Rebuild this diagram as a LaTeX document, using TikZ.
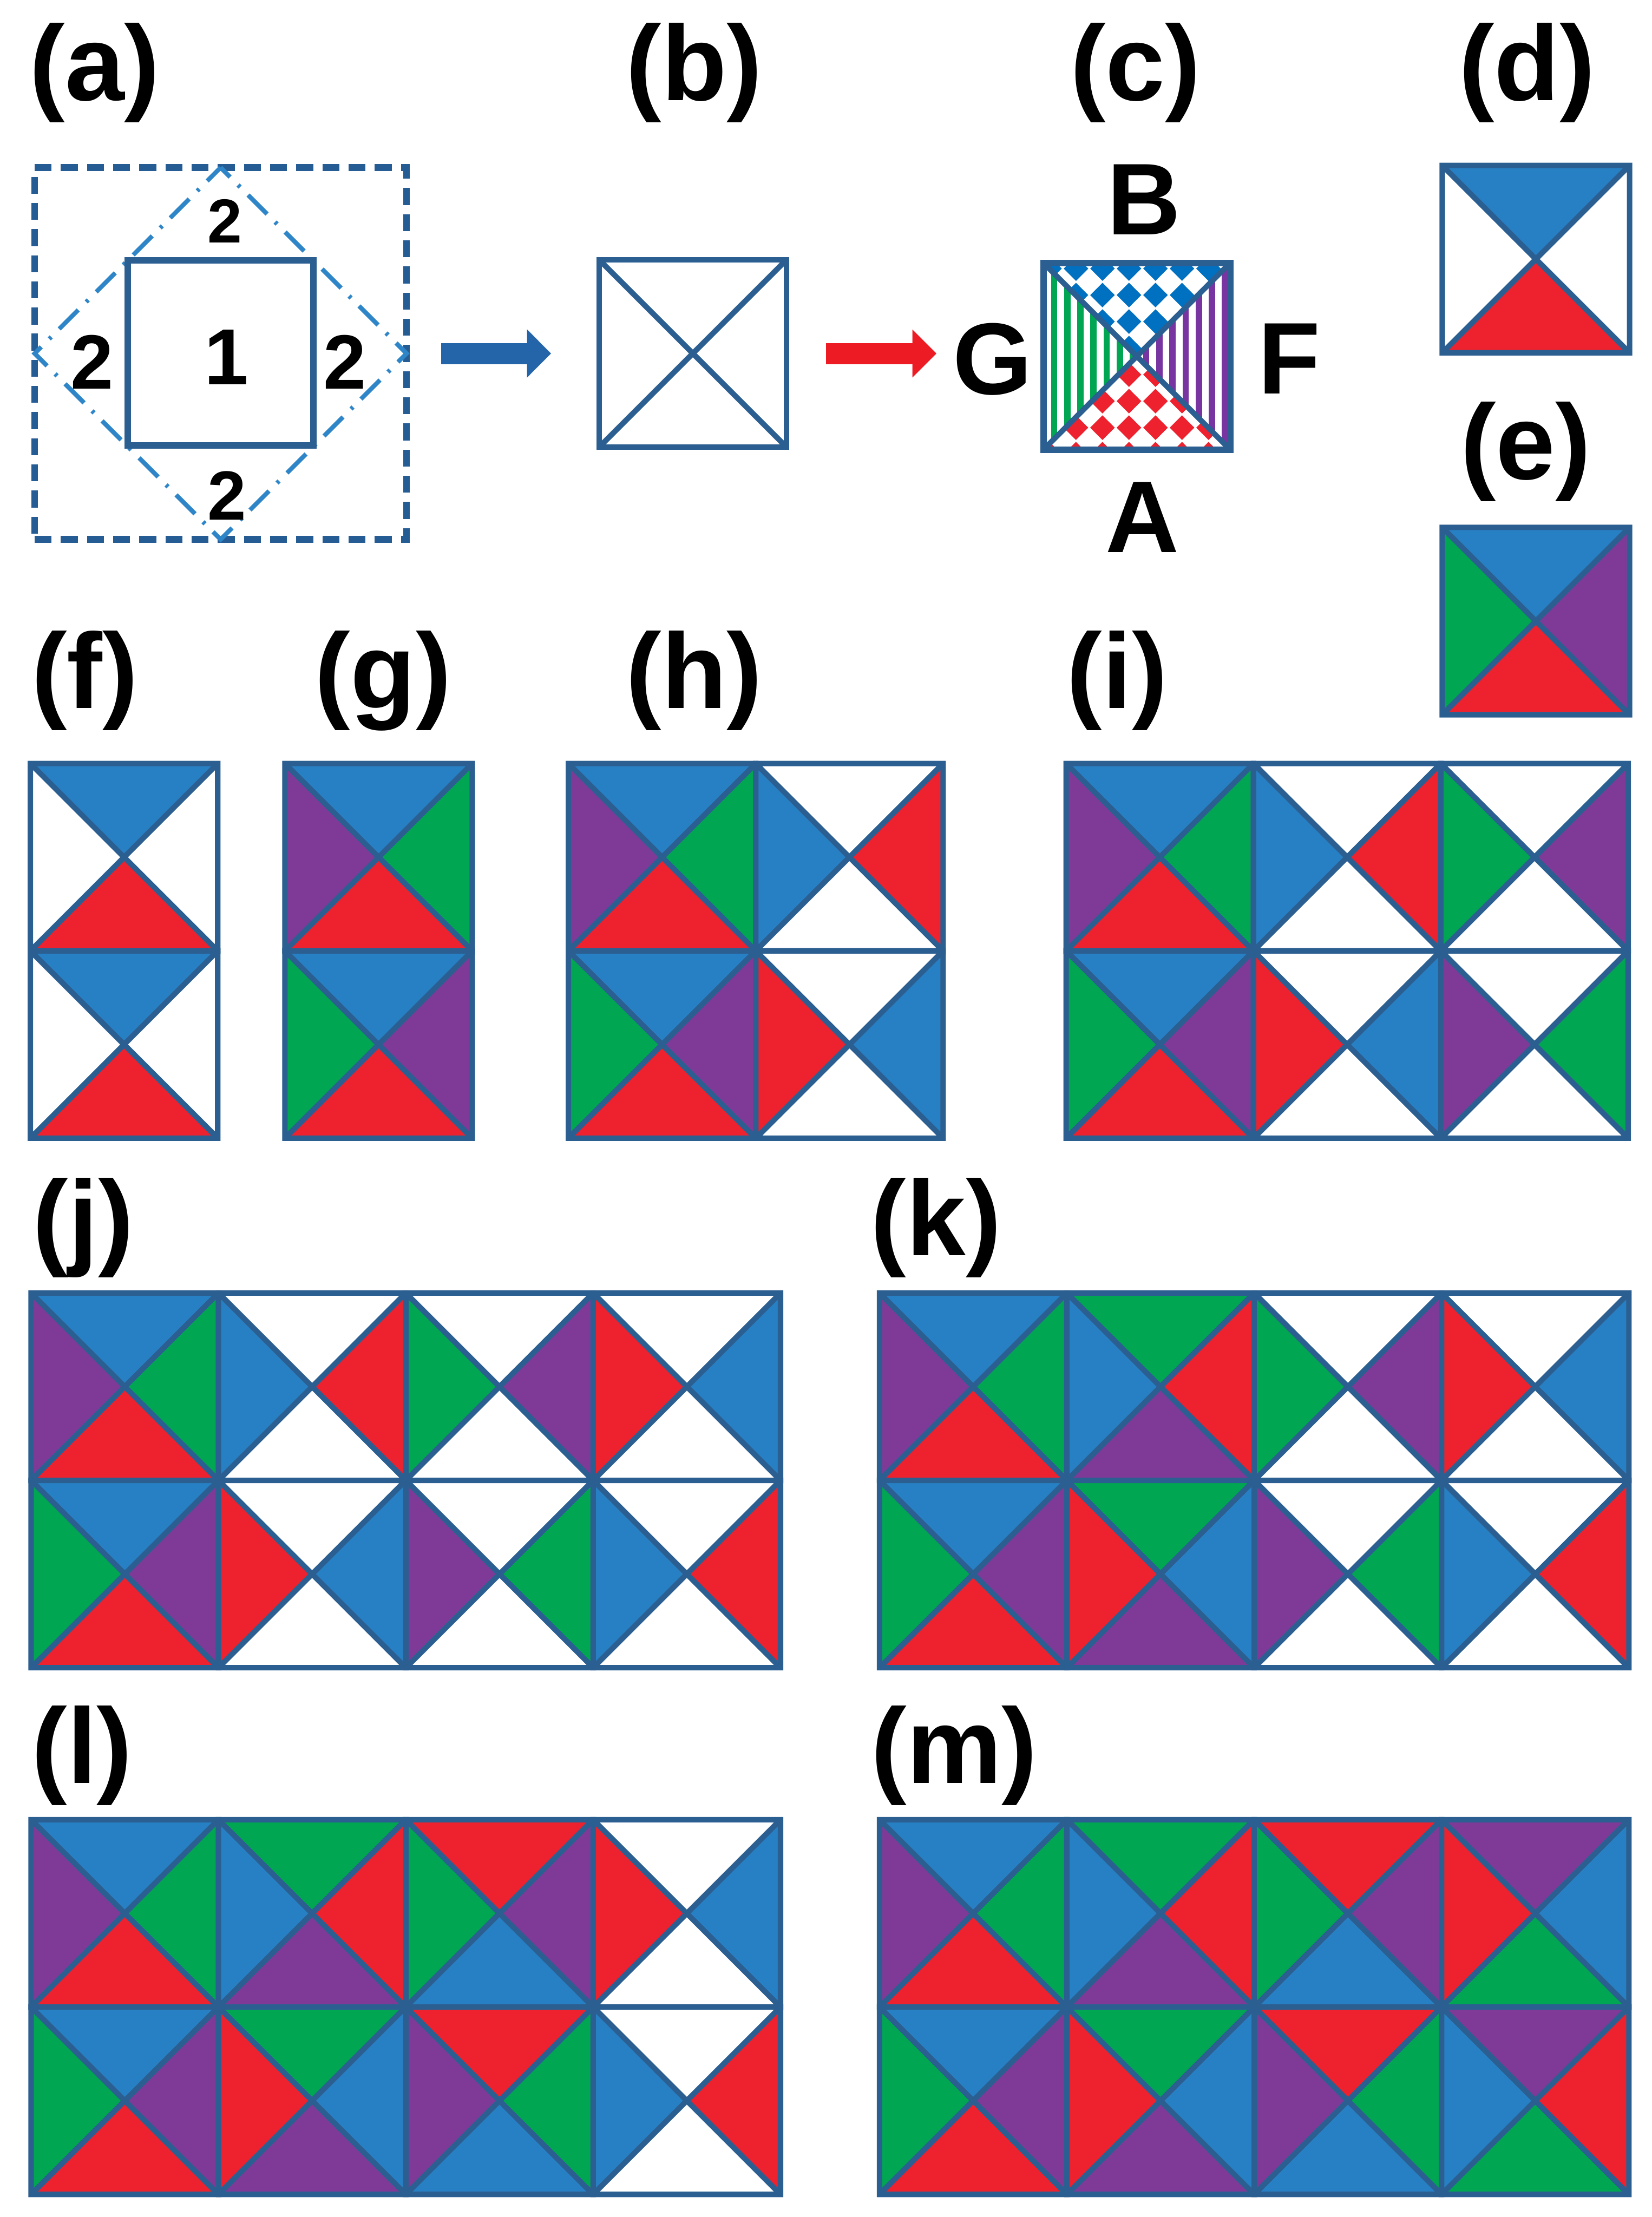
\documentclass[tikz,border=0pt]{standalone}
\usepackage{fontspec}
\setmainfont{Liberation Sans}
\usetikzlibrary{arrows.meta}

\definecolor{tileline}{RGB}{44,95,145}
\definecolor{bl}{RGB}{40,128,196}
\definecolor{rd}{RGB}{237,34,46}
\definecolor{gn}{RGB}{0,166,81}
\definecolor{pu}{RGB}{127,58,152}
\definecolor{wh}{RGB}{255,255,255}
\definecolor{dashblue}{RGB}{38,92,148}
\definecolor{dotblue}{RGB}{46,134,200}
\definecolor{arrblue}{RGB}{36,100,168}
\definecolor{arrred}{RGB}{237,28,36}
\definecolor{diamblue}{RGB}{0,112,192}
\definecolor{stripepu}{RGB}{120,52,160}

\tikzset{
  tileedge/.style={draw=tileline, line width=1.1pt},
  sqnode/.style={draw=tileline, line width=1.3pt, inner sep=0pt, outer sep=0pt},
  lbl/.style={font=\fontsize{21.5}{24}\selectfont\bfseries, anchor=base, inner sep=0pt},
  side/.style={font=\fontsize{20.5}{24}\selectfont\bfseries, anchor=base, inner sep=0pt},
  num/.style={font=\fontsize{16}{18}\selectfont\bfseries, anchor=base, inner sep=0pt},
  dotline/.style={draw=dotblue, line width=0.9pt, dash pattern=on 1.9mm off 0.8mm on 0.2mm off 0.8mm, dash phase=0.95mm},
  fatarrow/.style={line width=1.5mm, -{Triangle[length=1.7mm, width=3.3mm]}},
}

% one square cut by its diagonals: x, y (top left), top, left, right, bottom
\newcommand{\quadtile}[6]{%
  \fill[fill=#3] (#1,#2) -- ++(132.5,0) -- ++(-66.25,66.25) -- cycle;
  \fill[fill=#4] (#1,#2) -- ++(0,132.5) -- ++(66.25,-66.25) -- cycle;
  \fill[fill=#5] (#1+132.5,#2) -- ++(0,132.5) -- ++(-66.25,-66.25) -- cycle;
  \fill[fill=#6] (#1,#2+132.5) -- ++(132.5,0) -- ++(-66.25,-66.25) -- cycle;
  \draw[tileedge] (#1,#2) rectangle ++(132.5,132.5)
    (#1,#2) -- ++(132.5,132.5) (#1+132.5,#2) -- ++(-132.5,132.5);
}
% x, y of the top left corner, list col/row/top/left/right/bottom
\newcommand{\tilegrid}[3]{%
  \foreach \gc/\gr/\kt/\kl/\kr/\kb in {#3}
    \quadtile{#1+132.5*\gc}{#2+132.5*\gr}{\kt}{\kl}{\kr}{\kb};
}
% diamond checker of panel (c)
\newcommand{\diamondfield}[1]{%
  \foreach \di in {-2,...,5} \foreach \dj in {-1,...,6}
    \fill[fill=#1] ({779.7+18.75*\di},{208.7+18.75*\dj}) +(0,-8.7) -- +(8.7,0) -- +(0,8.7) -- +(-8.7,0) -- cycle;
}

\begin{document}
\begin{tikzpicture}[x=0.1mm, y=-0.1mm]
  \useasboundingbox (0,0) rectangle (1168,1568);

  % (a)
  \node[lbl] (la) at (67,71) {(a)};
  \node[draw=dashblue, line width=1.4pt, dash pattern=on 1.2mm off 0.65mm, minimum size=26.3mm, inner sep=0pt, outer sep=0pt] (aout) at (156,250) {};
  \draw[dotline] (aout.north) -- (aout.east) -- (aout.south) -- (aout.west) -- cycle;
  \node[sqnode, minimum size=13.1mm] (ain) at (156,249.5) {};
  \node[num] (n1) at (160,272) {1};
  \node[num, font=\fontsize{12.5}{14}\selectfont\bfseries] (n2t) at (159,171.5) {2};
  \node[num, font=\fontsize{15.5}{18}\selectfont\bfseries] (n2l) at (65,275) {2};
  \node[num, font=\fontsize{15.5}{18}\selectfont\bfseries] (n2r) at (244,275) {2};
  \node[num, font=\fontsize{14}{16}\selectfont\bfseries] (n2b) at (160.5,367.5) {2};

  % (b)
  \node[lbl] (lb) at (491,71) {(b)};
  \node[sqnode, line width=1.1pt, minimum size=13.25mm] (bsq) at (490,250) {};
  \draw[tileedge] (bsq.north west) -- (bsq.south east) (bsq.north east) -- (bsq.south west);
  \draw[fatarrow, arrblue, shorten <=2.45mm, shorten >=3.4mm] (aout.east) -- (bsq.west);

  % (c)
  \node[lbl] (lc) at (803,71) {(c)};
  \begin{scope}
    \clip (738,186) -- (870,186) -- (804,252) -- cycle;
    \diamondfield{diamblue}
  \end{scope}
  \begin{scope}
    \clip (738,318) -- (870,318) -- (804,252) -- cycle;
    \diamondfield{rd}
  \end{scope}
  \begin{scope}
    \clip (738,186) -- (738,318) -- (804,252) -- cycle;
    \foreach \k in {0,...,13} \draw[gn, line width=0.45mm] ({745.5+9.3*\k},180) -- ++(0,145);
  \end{scope}
  \begin{scope}
    \clip (870,186) -- (870,318) -- (804,252) -- cycle;
    \foreach \k in {0,...,13} \draw[stripepu, line width=0.45mm] ({745.5+9.3*\k},180) -- ++(0,145);
  \end{scope}
  \node[sqnode, minimum size=13.2mm] (csq) at (804,252) {};
  \draw[tileedge] (csq.north west) -- (csq.south east) (csq.north east) -- (csq.south west);
  \node[side] (lB) at (809,166) {B};
  \node[side] (lG) at (702,279) {G};
  \node[side] (lF) at (912,278.5) {F};
  \node[side] (lA) at (808,390.5) {A};
  \draw[fatarrow, arrred, shorten <=2.8mm, shorten >=1.1mm] (bsq.east) -- (bsq.east -| lG.west);

  % (d) and (e)
  \node[lbl] (ld) at (1080,71) {(d)};
  \quadtile{1020}{117}{bl}{wh}{wh}{rd}
  \node[lbl] (le) at (1079,339) {(e)};
  \quadtile{1020}{373}{bl}{gn}{pu}{rd}

  % (f) - (i)
  \node[lbl] (lf) at (60,501) {(f)};
  \tilegrid{21.5}{540}{0/0/bl/wh/wh/rd, 0/1/bl/wh/wh/rd}
  \node[lbl] (lg) at (271,501) {(g)};
  \tilegrid{201.5}{540}{0/0/bl/pu/gn/rd, 0/1/bl/gn/pu/rd}
  \node[lbl] (lh) at (491,501) {(h)};
  \tilegrid{402}{540}{0/0/bl/pu/gn/rd, 1/0/wh/bl/rd/wh,
    0/1/bl/gn/pu/rd, 1/1/wh/rd/bl/wh}
  \node[lbl] (li) at (790,501) {(i)};
  \tilegrid{754}{540}{0/0/bl/pu/gn/rd, 1/0/wh/bl/rd/wh, 2/0/wh/gn/pu/wh,
    0/1/bl/gn/pu/rd, 1/1/wh/rd/bl/wh, 2/1/wh/pu/gn/wh}

  % (j), (k)
  \node[lbl] (lj) at (59,888) {(j)};
  \tilegrid{22}{914.5}{0/0/bl/pu/gn/rd, 1/0/wh/bl/rd/wh, 2/0/wh/gn/pu/wh, 3/0/wh/rd/bl/wh,
    0/1/bl/gn/pu/rd, 1/1/wh/rd/bl/wh, 2/1/wh/pu/gn/wh, 3/1/wh/bl/rd/wh}
  \node[lbl] (lk) at (662,888) {(k)};
  \tilegrid{622}{914.5}{0/0/bl/pu/gn/rd, 1/0/gn/bl/rd/pu, 2/0/wh/gn/pu/wh, 3/0/wh/rd/bl/wh,
    0/1/bl/gn/pu/rd, 1/1/gn/rd/bl/pu, 2/1/wh/pu/gn/wh, 3/1/wh/bl/rd/wh}

  % (l), (m)
  \node[lbl] (ll) at (58,1261) {(l)};
  \tilegrid{22}{1287}{0/0/bl/pu/gn/rd, 1/0/gn/bl/rd/pu, 2/0/rd/gn/pu/bl, 3/0/wh/rd/bl/wh,
    0/1/bl/gn/pu/rd, 1/1/gn/rd/bl/pu, 2/1/rd/pu/gn/bl, 3/1/wh/bl/rd/wh}
  \node[lbl] (lm) at (675,1261) {(m)};
  \tilegrid{622}{1287}{0/0/bl/pu/gn/rd, 1/0/gn/bl/rd/pu, 2/0/rd/gn/pu/bl, 3/0/pu/rd/bl/gn,
    0/1/bl/gn/pu/rd, 1/1/gn/rd/bl/pu, 2/1/rd/pu/gn/bl, 3/1/pu/bl/rd/gn}
\end{tikzpicture}
\end{document}
